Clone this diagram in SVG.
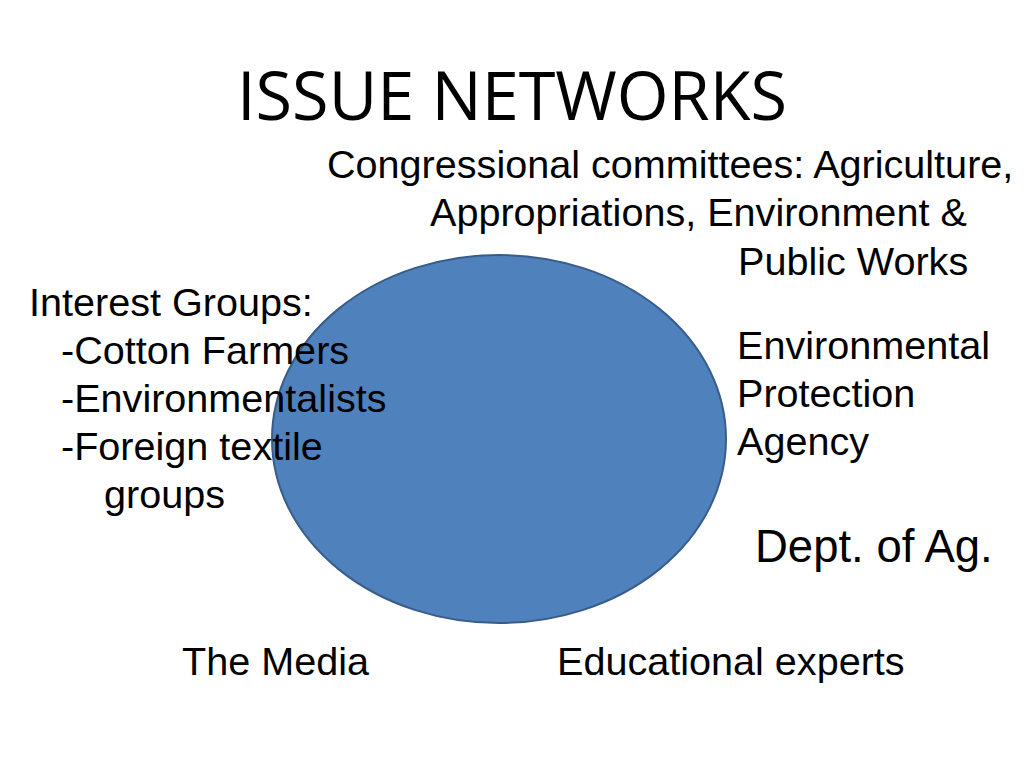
<svg xmlns="http://www.w3.org/2000/svg" width="1024" height="768" viewBox="0 0 1024 768">
<style>
.t{font-family:"Liberation Sans",Arial,sans-serif;font-size:39.6px;fill:#000}
.title{font-family:"Open Sans","Liberation Sans",sans-serif;font-size:67px;fill:#000}
</style>
<rect width="1024" height="768" fill="#fff"/>
<text class="title" x="237" y="120" textLength="550" lengthAdjust="spacingAndGlyphs">ISSUE NETWORKS</text>
<g id="network">
<ellipse cx="499" cy="439" rx="227" ry="184" fill="#4F81BD" stroke="#385D8A" stroke-width="2"/>
</g>
<g id="connectors"></g>
<g id="congress">
<text class="t" x="327" y="178">Congressional committees: Agriculture,</text>
<text class="t" x="430" y="226">Appropriations, Environment &amp;</text>
<text class="t" x="738" y="275">Public Works</text>
</g>
<g id="interest">
<text class="t" x="29" y="316">Interest Groups:</text>
<text class="t" x="61" y="364">-Cotton Farmers</text>
<text class="t" x="61" y="412">-Environmentalists</text>
<text class="t" x="61" y="460">-Foreign textile</text>
<text class="t" x="104" y="508">groups</text>
</g>
<g id="epa">
<text class="t" x="737" y="359">Environmental</text>
<text class="t" x="737" y="407">Protection</text>
<text class="t" x="737" y="455">Agency</text>
</g>
<g id="dept">
<text class="t" x="755" y="562" style="font-size:45.5px">Dept. of Ag.</text>
</g>
<g id="media">
<text class="t" x="182" y="675">The Media</text>
</g>
<g id="experts">
<text class="t" x="557" y="675">Educational experts</text>
</g>
</svg>
